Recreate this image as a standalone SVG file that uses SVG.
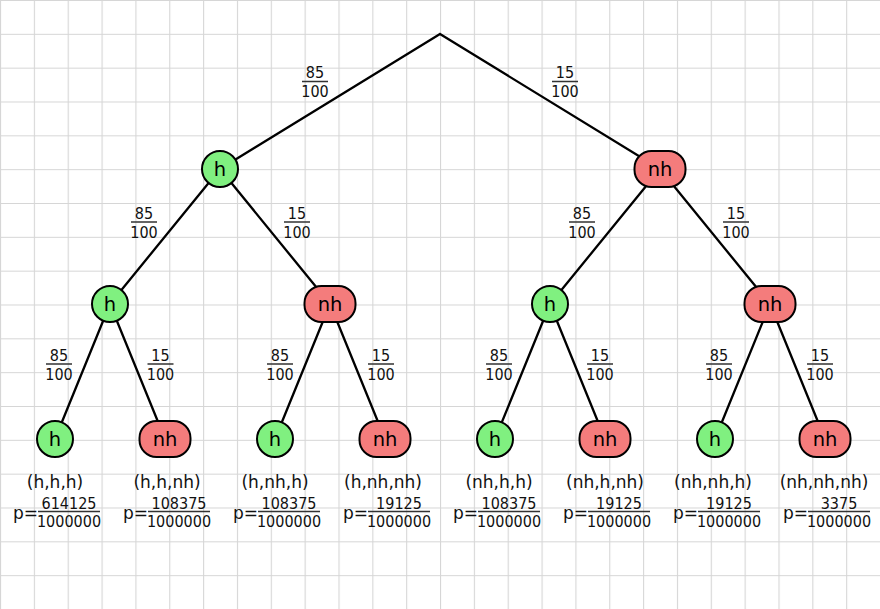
<svg xmlns="http://www.w3.org/2000/svg" width="880" height="609" viewBox="0 0 880 609">
<defs>
<pattern id="grid" width="33.846" height="33.833" patternUnits="userSpaceOnUse">
<path d="M0.5 0V33.833M0 0.5H33.846" fill="none" stroke="#d6d6d6" stroke-width="1.2"/>
</pattern>
</defs>
<style>
.edge{stroke:#000;stroke-width:2.3;fill:none;stroke-linecap:round}
.h{fill:#80f080;stroke:#000;stroke-width:2}
.nh{fill:#f47c7c;stroke:#000;stroke-width:2}
.nl{font-family:"DejaVu Sans",Verdana,sans-serif;font-size:19.5px;text-anchor:middle;fill:#000}
.fr{font-family:"DejaVu Sans Condensed","DejaVu Sans",sans-serif;font-stretch:condensed;font-size:16px;text-anchor:middle;fill:#111}
.bar{stroke:#333;stroke-width:1.3}
.tp{font-family:"DejaVu Sans",Verdana,sans-serif;font-size:17px;fill:#111}
</style>
<rect width="880" height="609" fill="#fff"/>
<rect width="880" height="609" fill="url(#grid)"/>
<g id="connectors">
<path class="edge" d="M440 34L220 169M440 34L660 169M220 169L110 304M220 169L330 304M660 169L550 304M660 169L770 304M110 304L55 439M110 304L165 439M330 304L275 439M330 304L385 439M550 304L495 439M550 304L605 439M770 304L715 439M770 304L825 439"/>
</g>
<g id="edge-labels">
<g class="fr">
<text x="315" y="78">85</text><text x="315" y="97">100</text>
<text x="565" y="78">15</text><text x="565" y="97">100</text>
<text x="144" y="219">85</text><text x="144" y="238">100</text>
<text x="297" y="219">15</text><text x="297" y="238">100</text>
<text x="582" y="219">85</text><text x="582" y="238">100</text>
<text x="736" y="219">15</text><text x="736" y="238">100</text>
<text x="59" y="361">85</text><text x="59" y="380">100</text>
<text x="160.5" y="361">15</text><text x="160.5" y="380">100</text>
<text x="280" y="361">85</text><text x="280" y="380">100</text>
<text x="381" y="361">15</text><text x="381" y="380">100</text>
<text x="499" y="361">85</text><text x="499" y="380">100</text>
<text x="600" y="361">15</text><text x="600" y="380">100</text>
<text x="719" y="361">85</text><text x="719" y="380">100</text>
<text x="820" y="361">15</text><text x="820" y="380">100</text>
</g>
<path class="bar" d="M302 81.5H328M552 81.5H578M131 222H157M284 222H310M569 222H595M723 222H749M46 364H72M147.5 364H173.5M267 364H293M368 364H394M486 364H512M587 364H613M706 364H732M807 364H833"/>
</g>
<g id="node-h1"><circle class="h" cx="220" cy="169" r="18"/><text class="nl" x="220" y="176">h</text></g>
<g id="node-nh1"><rect class="nh" x="634.5" y="151" width="51" height="36" rx="17"/><text class="nl" x="660" y="176">nh</text></g>
<g id="node-hh"><circle class="h" cx="110" cy="304" r="18"/><text class="nl" x="110" y="311">h</text></g>
<g id="node-hnh"><rect class="nh" x="304.5" y="286" width="51" height="36" rx="17"/><text class="nl" x="330" y="311">nh</text></g>
<g id="node-nhh"><circle class="h" cx="550" cy="304" r="18"/><text class="nl" x="550" y="311">h</text></g>
<g id="node-nhnh"><rect class="nh" x="744.5" y="286" width="51" height="36" rx="17"/><text class="nl" x="770" y="311">nh</text></g>
<g id="leaf-hhh"><circle class="h" cx="55" cy="439" r="18"/><text class="nl" x="55" y="446">h</text></g>
<g id="leaf-hhnh"><rect class="nh" x="139.5" y="421" width="51" height="36" rx="17"/><text class="nl" x="165" y="446">nh</text></g>
<g id="leaf-hnhh"><circle class="h" cx="275" cy="439" r="18"/><text class="nl" x="275" y="446">h</text></g>
<g id="leaf-hnhnh"><rect class="nh" x="359.5" y="421" width="51" height="36" rx="17"/><text class="nl" x="385" y="446">nh</text></g>
<g id="leaf-nhhh"><circle class="h" cx="495" cy="439" r="18"/><text class="nl" x="495" y="446">h</text></g>
<g id="leaf-nhhnh"><rect class="nh" x="579.5" y="421" width="51" height="36" rx="17"/><text class="nl" x="605" y="446">nh</text></g>
<g id="leaf-nhnhh"><circle class="h" cx="715" cy="439" r="18"/><text class="nl" x="715" y="446">h</text></g>
<g id="leaf-nhnhnh"><rect class="nh" x="799.5" y="421" width="51" height="36" rx="17"/><text class="nl" x="825" y="446">nh</text></g>
<g id="leaf-labels">
<g class="tp" text-anchor="middle">
<text x="55" y="488">(h,h,h)</text>
<text x="167" y="488">(h,h,nh)</text>
<text x="275" y="488">(h,nh,h)</text>
<text x="383" y="488">(h,nh,nh)</text>
<text x="499" y="488">(nh,h,h)</text>
<text x="605" y="488">(nh,h,nh)</text>
<text x="713" y="488">(nh,nh,h)</text>
<text x="824" y="488">(nh,nh,nh)</text>
</g>
<g class="tp">
<text x="13" y="519">p=</text>
<text x="123" y="519">p=</text>
<text x="233" y="519">p=</text>
<text x="343" y="519">p=</text>
<text x="453" y="519">p=</text>
<text x="563" y="519">p=</text>
<text x="673" y="519">p=</text>
<text x="783" y="519">p=</text>
</g>
<g class="fr">
<text x="69" y="508.5">614125</text><text x="69" y="526.5">1000000</text>
<text x="179" y="508.5">108375</text><text x="179" y="526.5">1000000</text>
<text x="289" y="508.5">108375</text><text x="289" y="526.5">1000000</text>
<text x="399" y="508.5">19125</text><text x="399" y="526.5">1000000</text>
<text x="509" y="508.5">108375</text><text x="509" y="526.5">1000000</text>
<text x="619" y="508.5">19125</text><text x="619" y="526.5">1000000</text>
<text x="729" y="508.5">19125</text><text x="729" y="526.5">1000000</text>
<text x="839" y="508.5">3375</text><text x="839" y="526.5">1000000</text>
</g>
<path class="bar" d="M38 511.5H100M148 511.5H210M258 511.5H320M368 511.5H430M478 511.5H540M588 511.5H650M698 511.5H760M808 511.5H870"/>
</g>
</svg>
